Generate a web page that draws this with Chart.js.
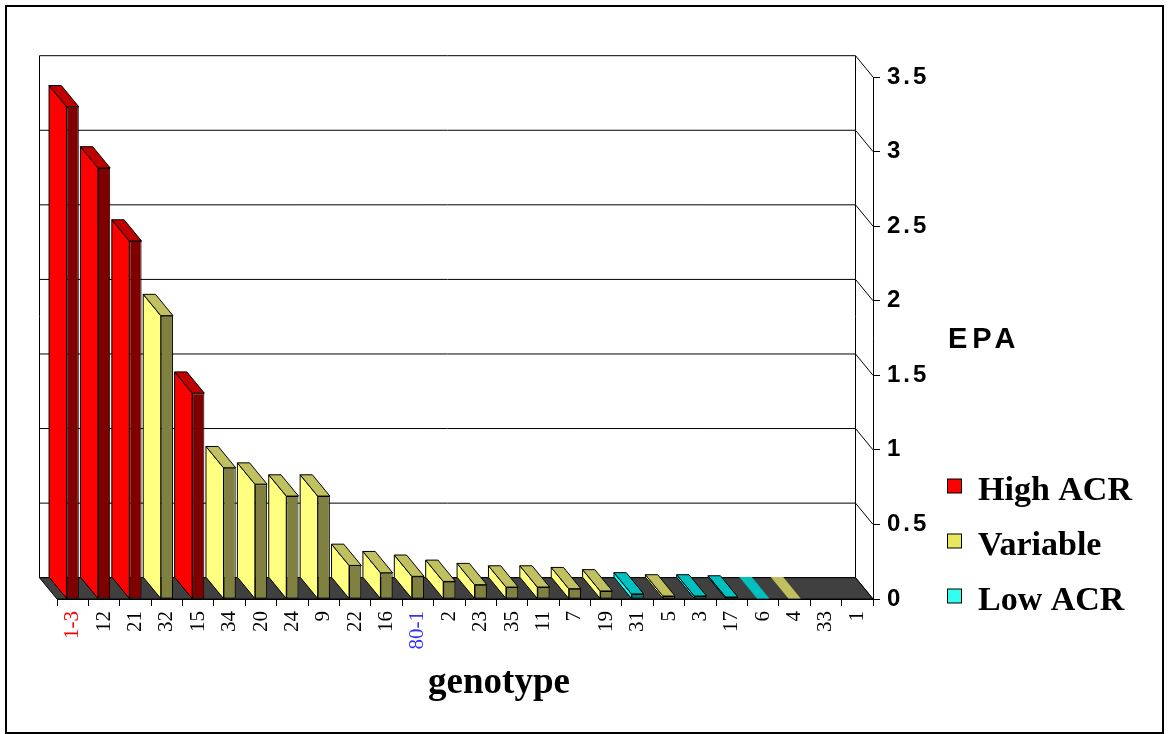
<!DOCTYPE html>
<html>
<head>
<meta charset="utf-8">
<script src="https://cdn.jsdelivr.net/npm/chart.js@4/dist/chart.umd.min.js"></script>
<style>
  html, body { margin: 0; padding: 0; background: #fff; }
  #wrap { width: 1170px; height: 734px; position: relative; }
</style>
</head>
<body>
<div id="wrap"><canvas id="c"></canvas></div>
<script>
// genotypes along the x axis, in plotted order
const genotypes = ['1-3','12','21','32','15','34','20','24','9','22','16','80-1','2','23','35','11','7','19','31','5','3','17','6','4','33','1'];
// EPA value per genotype
const epa = [3.30,2.89,2.40,1.90,1.38,0.88,0.77,0.69,0.69,0.225,0.176,0.152,0.118,0.096,0.080,0.080,0.069,0.054,0.034,0.020,0.020,0.013,0.004,0.004,0,0];
// ACR class per genotype (H = high, V = variable, L = low)
const acrClass = ['H','H','H','V','H','V','V','V','V','V','V','V','V','V','V','V','V','V','L','V','L','L','L','V',null,null];
const yTicks = [0, 0.5, 1, 1.5, 2, 2.5, 3, 3.5];

const groups = [
  { key: 'H', label: 'High ACR', front: '#800000', side: '#ff0000', top: '#c00000', legend: '#ff0000' },
  { key: 'V', label: 'Variable', front: '#808040', side: '#ffff80', top: '#c0c060', legend: '#e8e860' },
  { key: 'L', label: 'Low ACR',  front: '#008080', side: '#00ffff', top: '#00c0c0', legend: '#33ffee' }
];
const labelColor = { '1-3': '#ff0000', '80-1': '#3333ff' };

// depth offset of the fake 3d (front -> back)
const DX = 17.5, DY = 21.3;

const datasets = groups.map(g => ({
  label: g.label,
  data: epa.map((v, i) => acrClass[i] === g.key ? v : null),
  backgroundColor: g.front,
  borderColor: '#000',
  borderWidth: c => (c.raw != null && c.raw < 0.01) ? 0 : 1,
  borderSkipped: false,
  sideColor: g.side, topColor: g.top, legendColor: g.legend
}));

const box3d = {
  id: 'box3d',
  beforeDatasetsDraw(chart) {
    const { ctx, chartArea: a, scales: { y } } = chart;
    const line = (x1, y1, x2, y2) => { ctx.beginPath(); ctx.moveTo(x1, y1); ctx.lineTo(x2, y2); ctx.stroke(); };
    const poly = (pts, fill, stroke) => {
      ctx.beginPath(); pts.forEach((p, i) => i ? ctx.lineTo(p[0], p[1]) : ctx.moveTo(p[0], p[1])); ctx.closePath();
      ctx.fillStyle = fill; ctx.fill(); if (stroke) ctx.stroke();
    };
    ctx.save();
    ctx.lineWidth = 1; ctx.strokeStyle = '#000';
    y.ticks.forEach(t => {
      const py = y.getPixelForValue(t.value);
      line(a.left - DX, py - DY, a.right - DX, py - DY);
      line(a.right - DX, py - DY, a.right, py);
    });
    const top = y.getPixelForValue(y.max);
    line(a.left - DX, top - DY, a.left - DX, a.bottom - DY);
    line(a.right - DX, top - DY, a.right - DX, a.bottom - DY);
    poly([[a.left, a.bottom], [a.right, a.bottom], [a.right - DX, a.bottom - DY], [a.left - DX, a.bottom - DY]], '#404040', true);
    chart.data.datasets.forEach((ds, i) => {
      chart.getDatasetMeta(i).data.forEach((bar, j) => {
        const v = ds.data[j];
        if (v == null) return;
        const { x, y: ty, base, width } = bar.getProps(['x', 'y', 'base', 'width'], true);
        const l = x - width / 2, r = x + width / 2;
        const edge = v >= 0.01;
        poly([[l, ty], [l - DX, ty - DY], [l - DX, base - DY], [l, base]], ds.sideColor, edge);
        poly([[l, ty], [r, ty], [r - DX, ty - DY], [l - DX, ty - DY]], ds.topColor, edge);
      });
    });
    ctx.restore();
  },
  afterDatasetsDraw(chart) {
    // y tick labels are drawn on a later layer; widen their spacing like the original
    chart.ctx.letterSpacing = '3px';
  },
  afterDraw(chart) {
    const ctx = chart.ctx;
    ctx.letterSpacing = '0px';
    ctx.save();
    ctx.fillStyle = '#000';
    ctx.textBaseline = 'alphabetic';
    // axis titles
    ctx.font = 'bold 29px "Liberation Sans", Arial, sans-serif';
    ctx.letterSpacing = '5px';
    ctx.textAlign = 'left';
    ctx.fillText('EPA', 948, 348);
    ctx.letterSpacing = '0px';
    ctx.font = 'bold 37px "Liberation Serif", "Times New Roman", serif';
    ctx.textAlign = 'center';
    ctx.fillText('genotype', 499, 693);
    // legend
    ctx.textAlign = 'left';
    ctx.font = 'bold 34px "Liberation Serif", "Times New Roman", serif';
    chart.data.datasets.forEach((ds, i) => {
      const by = 500 + i * 55;
      ctx.fillStyle = ds.legendColor;
      ctx.fillRect(947.5, by - 21, 14, 14);
      ctx.strokeStyle = '#000'; ctx.lineWidth = 1;
      ctx.strokeRect(947.5, by - 21, 14, 14);
      ctx.fillStyle = '#000';
      ctx.fillText(ds.label, 978, by);
    });
    // outer frame
    ctx.lineWidth = 2; ctx.strokeStyle = '#000';
    ctx.strokeRect(6, 6, 1157, 727);
    ctx.restore();
  }
};

new Chart(document.getElementById('c'), {
  type: 'bar',
  data: { labels: genotypes, datasets },
  options: {
    responsive: true,
    maintainAspectRatio: false,
    animation: false,
    layout: { padding: { left: 57, top: 77, right: 0, bottom: 0 } },
    plugins: { legend: { display: false }, tooltip: { enabled: false } },
    datasets: { bar: { categoryPercentage: 1, barPercentage: 0.39 } },
    scales: {
      x: {
        stacked: true,
        grid: { drawOnChartArea: false, drawTicks: true, tickLength: 7, color: '#000' },
        border: { display: true, color: '#000' },
        ticks: {
          autoSkip: false, maxRotation: 90, minRotation: 90, padding: 5,
          color: c => labelColor[genotypes[c.index]] || '#000',
          font: { family: '"Liberation Serif", "Times New Roman", serif', size: 21 }
        },
        afterFit: s => { s.height = 135; }
      },
      y: {
        stacked: true,
        position: 'right',
        min: 0, max: 3.5,
        afterBuildTicks: s => { s.ticks = yTicks.map(v => ({ value: v })); },
        grid: { drawOnChartArea: false, drawTicks: true, tickLength: 7, color: '#000' },
        border: { display: true, color: '#000' },
        ticks: {
          z: 1, padding: 7, color: '#000',
          callback: v => String(v),
          font: { family: '"Liberation Sans", Arial, sans-serif', size: 24, weight: 'bold' }
        },
        afterFit: s => { s.width = 297; }
      }
    }
  },
  plugins: [box3d]
});
</script>
</body>
</html>
